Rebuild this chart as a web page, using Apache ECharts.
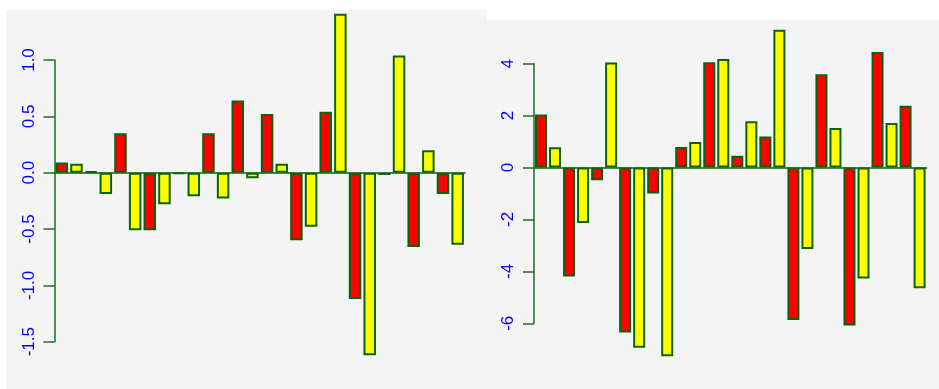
<!DOCTYPE html>
<html lang="en">
<head>
    <meta charset="UTF-8">
    <title>barplot</title>
    <script src="https://cdn.jsdelivr.net/npm/echarts@6.0.0/dist/echarts.min.js"></script>
    <style>
        html, body { margin: 0; padding: 0; background: #ffffff; }
        body { width: 939px; height: 389px; position: relative; overflow: hidden; }
        .panel { position: absolute; background: #f4f4f4; }
        #left-panel { left: 6px; top: 10px; width: 481px; height: 379px; }
        #right-panel { left: 487px; top: 20px; width: 452px; height: 369px; }
    </style>
</head>
<body>
<div id="left-panel" class="panel"></div>
<div id="right-panel" class="panel"></div>
<script>
  // bar order, one per bar (no labels drawn on the x axis)
  var barLabels = ['1', '2', '3', '4', '5', '6', '7', '8', '9', '10', '11', '12', '13', '14',
    '15', '16', '17', '18', '19', '20', '21', '22', '23', '24', '25', '26', '27', '28'];
  // colours are recycled like barplot(col = c("red", "yellow"))
  var barColors = ['#ff0000', '#ffff00'];

  var leftValues = [0.09, 0.08, 0.01, -0.19, 0.35, -0.51, -0.51, -0.28, -0.01, -0.21,
    0.35, -0.23, 0.64, -0.05, 0.52, 0.08, -0.60, -0.48, 0.54, 1.41,
    -1.12, -1.62, -0.02, 1.04, -0.66, 0.20, -0.19, -0.64];
  var leftTicks = [-1.5, -1.0, -0.5, 0.0, 0.5, 1.0];

  var rightValues = [2.04, 0.78, -4.20, -2.14, -0.49, 4.05, -6.35, -6.94, -1.00, -7.27,
    0.79, 0.98, 4.06, 4.18, 0.45, 1.78, 1.20, 5.31, -5.87, -3.14,
    3.59, 1.52, -6.08, -4.27, 4.45, 1.72, 2.38, -4.65];
  var rightTicks = [-6, -4, -2, 0, 2, 4];

  var axisGreen = '#1f6f1f';
  var borderGreen = '#0b640b';

  function drawPanel(id, values, ticks, digits, grid, barWidth) {
    var chart = echarts.init(document.getElementById(id));
    chart.setOption({
      animation: false,
      grid: grid,
      xAxis: {
        type: 'category',
        data: barLabels,
        boundaryGap: true,
        axisLine: {onZero: true, lineStyle: {color: borderGreen, width: 1.5}},
        axisTick: {show: false},
        axisLabel: {show: false},
        splitLine: {show: false}
      },
      yAxis: {
        type: 'value',
        min: ticks[0],
        max: ticks[ticks.length - 1],
        interval: ticks[1] - ticks[0],
        axisLine: {show: true, lineStyle: {color: axisGreen, width: 1.5}},
        axisTick: {show: true, length: 11, lineStyle: {color: axisGreen, width: 1.5}},
        splitLine: {show: false},
        axisLabel: {
          rotate: 90,
          margin: 17,
          color: '#0000ff',
          fontFamily: 'Liberation Sans',
          fontSize: 17,
          formatter: function(v) { return v.toFixed(digits); }
        }
      },
      series: [{
        type: 'bar',
        data: values,
        clip: false,
        barWidth: barWidth,
        itemStyle: {
          color: function(p) { return barColors[p.dataIndex % 2]; },
          borderColor: borderGreen,
          borderWidth: 2
        }
      }]
    });
  }

  drawPanel('left-panel', leftValues, leftTicks, 1,
    {left: 48.5, top: 50, width: 410.5, height: 281.7}, 12.5);
  drawPanel('right-panel', rightValues, rightTicks, 0,
    {left: 47, top: 43.7, width: 392.6, height: 259.6}, 12);
</script>
</body>
</html>
